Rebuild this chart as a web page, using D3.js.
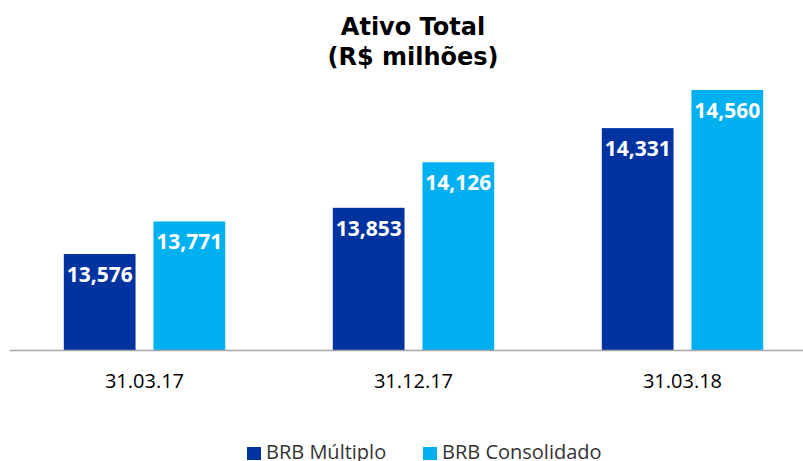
<!DOCTYPE html>
<html lang="pt">
<head>
  <meta charset="UTF-8">
  <title>Ativo Total</title>
  <script src="https://d3js.org/d3.v7.min.js"></script>
  <style>
    * { margin: 0; padding: 0; box-sizing: border-box; }
    body { background: #fff; }
    .title { font-family: "DejaVu Sans", Verdana, sans-serif; font-weight: bold; font-size: 24px; fill: #000; }
    .val { font-family: "Open Sans", "Noto Sans", sans-serif; font-weight: bold; font-size: 21px; fill: #fff; text-anchor: middle; }
    .cat { font-family: "Open Sans", sans-serif; font-size: 20px; fill: #000; text-anchor: middle; }
    .leg { font-family: "Open Sans", sans-serif; font-size: 20px; fill: #333; }
  </style>
</head>
<body>
  <div id="chart"></div>
  <script>
    const categories = ["31.03.17", "31.12.17", "31.03.18"];
    const seriesNames = ["BRB Múltiplo", "BRB Consolidado"];
    const multiplo = [13576, 13853, 14331];
    const consolidado = [13771, 14126, 14560];
    const colors = ["#0033a0", "#00b0f0"];

    const W = 803, H = 461, baseY = 350;

    const svg = d3.select("#chart").append("svg")
      .attr("width", W).attr("height", H);

    const data = categories.map((c, i) => ({
      cat: c,
      vals: [multiplo[i], consolidado[i]]
    }));

    const x0 = d3.scaleBand().domain(categories).range([10, 817])
      .paddingInner(0.4).paddingOuter(0.2);
    const x1 = d3.scaleBand().domain(seriesNames).range([0, x0.bandwidth()])
      .paddingInner(0.2);
    const y = d3.scaleLinear().domain([13000, 15000]).range([baseY, baseY - 333.4]);

    // title
    const title = svg.append("text").attr("class", "title").attr("text-anchor", "middle");
    title.append("tspan").attr("x", 413).attr("y", 35).text("Ativo Total");
    title.append("tspan").attr("x", 413).attr("y", 65).text("(R$ milhões)");

    const g = svg.selectAll(".grp").data(data).enter().append("g")
      .attr("transform", d => `translate(${x0(d.cat)},0)`);

    g.selectAll("rect").data(d => d.vals.map((v, j) => ({ s: seriesNames[j], v, j })))
      .enter().append("rect")
      .attr("x", d => x1(d.s))
      .attr("y", d => y(d.v))
      .attr("width", x1.bandwidth())
      .attr("height", d => baseY - y(d.v))
      .attr("fill", d => colors[d.j]);

    g.selectAll(".val").data(d => d.vals.map((v, j) => ({ s: seriesNames[j], v, j })))
      .enter().append("text")
      .attr("class", "val")
      .attr("x", d => x1(d.s) + x1.bandwidth() / 2)
      .attr("y", d => y(d.v) + 28)
      .text(d => d3.format(",")(d.v));

    // baseline axis
    const axis = svg.append("g").attr("transform", `translate(0,${baseY})`)
      .call(d3.axisBottom(x0).tickSize(0).tickPadding(0));
    axis.select(".domain").attr("d", "M10,0.5H803").attr("stroke", "#a6a6a6").attr("stroke-width", 1.5);
    axis.selectAll("text").attr("class", "cat").attr("dy", null).attr("y", 38);

    // legend
    const leg = svg.append("g");
    const legX = [247, 423];
    seriesNames.forEach((s, i) => {
      leg.append("rect").attr("x", legX[i]).attr("y", 447).attr("width", 14).attr("height", 13)
        .attr("fill", colors[i]);
      leg.append("text").attr("class", "leg").attr("x", legX[i] + 19).attr("y", 459).text(s);
    });
  </script>
</body>
</html>
